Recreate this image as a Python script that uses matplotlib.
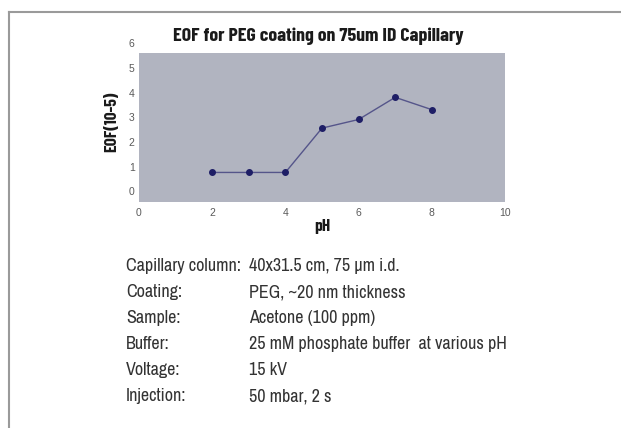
import matplotlib
matplotlib.use("Agg")
import matplotlib.pyplot as plt
from matplotlib.lines import Line2D

# EOF vs pH for the PEG coated capillary
ph = [2, 3, 4, 5, 6, 7, 8]
eof = [0.8, 0.8, 0.8, 2.6, 2.95, 3.85, 3.35]
xticks = [0, 2, 4, 6, 8, 10]
yticks = [0, 1, 2, 3, 4, 5, 6]

cond_labels = ["Capillary column:", "Coating:", "Sample:", "Buffer:", "Voltage:", "Injection:"]
cond_values = ["40x31.5 cm, 75 \u00b5m i.d.", "PEG, ~20 nm thickness", "Acetone (100 ppm)",
               "25 mM phosphate buffer  at various pH", "15 kV", "50 mbar, 2 s"]

bold_narrow = ["Barlow Condensed", "Archivo Narrow", "DejaVu Sans"]
body_narrow = ["Archivo Narrow", "Barlow Condensed", "DejaVu Sans"]

W, H = 621, 428
fig = plt.figure(figsize=(W / 100, H / 100), dpi=100)
fig.patch.set_facecolor("white")

# outer frame (top and left edges)
fig.add_artist(Line2D([8.5 / W, 1.0], [1 - 11.5 / H, 1 - 11.5 / H], color="#9a9a9a", lw=1.5))
fig.add_artist(Line2D([8.5 / W, 8.5 / W], [0, 1 - 11.5 / H], color="#9a9a9a", lw=1.5))

left, right, top, bottom = 139, 505, 53, 202
ax = fig.add_axes([left / W, 1 - bottom / H, (right - left) / W, (bottom - top) / H])
ax.set_facecolor("#b1b4c0")
for s in ax.spines.values():
    s.set_visible(False)

ax.plot(ph, eof, color="#55558a", lw=1.0, marker="o", ms=4,
        markerfacecolor="#1e1e66", markeredgecolor="#1e1e66")

ax.set_xlim(0, 10)
ax.set_ylim(-0.4, 5.65)
ax.set_xticks([])
ax.set_yticks([])

# tick labels sit a little outside the plotting area
for x in xticks:
    ax.text(x, -0.85, str(x), ha="center", va="center", fontsize=7.5, color="#5a5a5a",
            family="Liberation Sans", clip_on=False)
for y in yticks:
    ax.text(-0.12, y, str(y), ha="right", va="center", fontsize=7.5, color="#5a5a5a",
            family="Liberation Sans", clip_on=False)

fig.text(318 / W, 1 - 36 / H, "EOF for PEG coating on 75um ID Capillary", ha="center",
         va="center", fontsize=14.3, fontweight="bold", family=bold_narrow, color="#1a1a1a")
fig.text(322 / W, 1 - 226 / H, "pH", ha="center", va="center", fontsize=12.5,
         fontweight="bold", family=bold_narrow, color="#1a1a1a")
fig.text(112 / W, 1 - 122 / H, "EOF(10-5)", ha="center", va="center", rotation=90,
         fontsize=12.5, fontweight="bold", family=bold_narrow, color="#1a1a1a")

# run conditions listed under the chart
row_y = [266, 292, 318, 344, 370, 396]
for lab, val, y in zip(cond_labels, cond_values, row_y):
    fig.text(126 / W, 1 - y / H, lab, ha="left", va="center", fontsize=13,
             family=body_narrow, color="#333333")
    fig.text(249 / W, 1 - y / H, val, ha="left", va="center", fontsize=13,
             family=body_narrow, color="#333333")

fig.savefig("out.png", dpi=100)
